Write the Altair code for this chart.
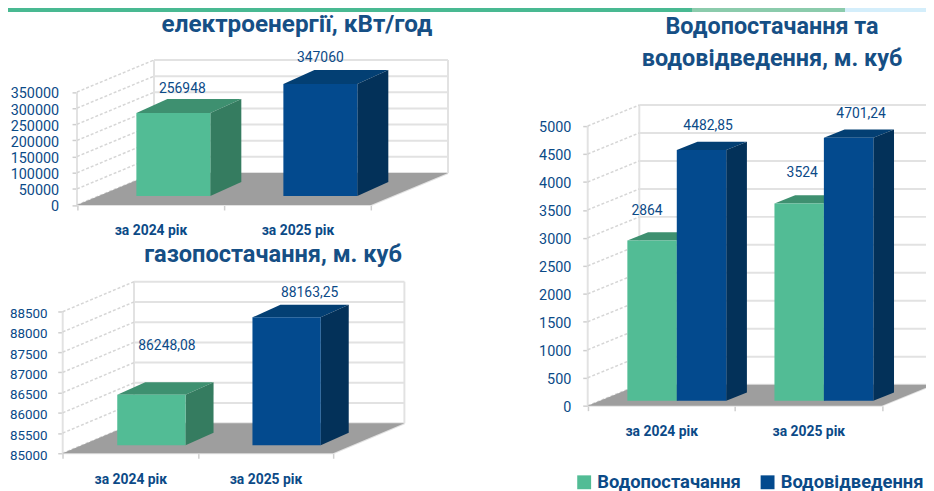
import altair as alt
import pandas as pd

# ---- values ----
categories = ["за 2024 рік", "за 2025 рік"]
electricity = [256948, 347060]
electricity_labels = ["256948", "347060"]
electricity_ticks = [0, 50000, 100000, 150000, 200000, 250000, 300000, 350000]
gas = [86248.08, 88163.25]
gas_labels = ["86248,08", "88163,25"]
gas_ticks = [85000, 85500, 86000, 86500, 87000, 87500, 88000, 88500]
water_supply = [2864, 3524]
water_supply_labels = ["2864", "3524"]
water_drain = [4482.85, 4701.24]
water_drain_labels = ["4482,85", "4701,24"]
water_ticks = [0, 500, 1000, 1500, 2000, 2500, 3000, 3500, 4000, 4500, 5000]
series_names = ["Водопостачання", "Водовідведення"]

# ---- styles ----
INK = "#0B4A87"
TITLE_INK = "#164F85"
FONT = "Roboto"
GRID = "#E2E2E2"
DIAG = "#D6D6D6"
FLOOR = "#9E9E9E"
GREEN = {"front": "#52BC95", "side": "#357C60", "top": "#3E9070"}
BLUE = {"front": "#034A8E", "side": "#033159", "top": "#033F73"}
M = 8      # page margin
W = 926    # the page fits the drawing into 918px, so page pixels are converted by S
H = 487
S = W / 918
LETTERBOX = (H - H / S) / 2


def P(px):
    return (px - M) * S


def Q(py):
    return (py - M - LETTERBOX) * S


def panel(x0, cat, depth, base, vmin, vmax, vh, off, left, barw, bdepth, ticks,
          groups, label_size, label_pad, cat_pad, legend=False):
    """groups: (series name, slot in the category, category index, value, label, shades, label offset)"""
    ux = lambda px: px / cat
    uy = lambda px: px / vh * (vmax - vmin)
    dxu, dyu = ux(depth[0]), uy(depth[1])
    xs = alt.Scale(domain=[0, 2 + dxu], range=[P(x0), P(x0 + 2 * cat + depth[0])], nice=False, zero=False)
    ys = alt.Scale(domain=[vmin, vmax + dyu], range=[Q(base), Q(base - vh - depth[1])], nice=False, zero=False)
    X = lambda axis=None: alt.X("x:Q", scale=xs, axis=axis, title=None)
    Y = lambda axis=None: alt.Y("y:Q", scale=ys, axis=axis, title=None)

    walls, diags = [], []
    for t in ticks:
        walls.append(dict(x=dxu, x2=2 + dxu, y=t + dyu, y2=t + dyu))
        diags.append(dict(x=0, x2=dxu, y=t, y2=t + dyu))
    walls.append(dict(x=dxu, x2=dxu, y=vmin + dyu, y2=vmax + dyu))
    walls.append(dict(x=2 + dxu, x2=2 + dxu, y=vmin + dyu, y2=vmax + dyu))
    walls.append(dict(x=0, x2=0, y=vmin, y2=vmax))
    walls.append(dict(x=0, x2=2, y=vmin, y2=vmin))
    walls.append(dict(x=2, x2=2 + dxu, y=vmin, y2=vmin + dyu))

    y_axis = alt.Axis(orient="left", values=ticks, format="d", domain=False, grid=False, tickColor="#CFCFCF",
                      tickSize=5, tickWidth=1.5, labelColor=INK, labelFont=FONT, labelFontSize=label_size,
                      labelPadding=label_pad, labelOffset=2, offset=-P(x0), labelOverlap=False)
    x_ticks = alt.Axis(orient="bottom", values=[0, 1, 2], labels=False, domain=False, grid=False,
                       tickColor="#CFCFCF", tickSize=5, tickWidth=1.5, offset=-(H - Q(base)))
    expr = f"datum.value < 1 ? '{categories[0]}' : '{categories[1]}'"
    x_names = alt.Axis(orient="bottom", values=[0.5, 1.5], labelExpr=expr, domain=False, grid=False, ticks=False,
                       labelColor=INK, labelFont=FONT, labelFontWeight="bold", labelFontSize=14,
                       labelPadding=cat_pad, offset=-(H - Q(base)))

    layers = [
        alt.Chart(pd.DataFrame(walls)).mark_rule(color=GRID, strokeWidth=2).encode(
            x=X(x_ticks), x2="x2:Q", y=Y(y_axis), y2="y2:Q"),
        alt.Chart(pd.DataFrame(diags)).mark_rule(color=DIAG, strokeWidth=1.5, strokeDash=[3, 2]).encode(
            x=X(), x2="x2:Q", y=Y(), y2="y2:Q"),
    ]

    floor = pd.DataFrame([
        dict(x=0, y=vmin, y2=vmin),
        dict(x=dxu, y=vmin, y2=vmin + dyu),
        dict(x=2, y=vmin, y2=vmin + dyu),
        dict(x=2 + dxu, y=vmin + dyu, y2=vmin + dyu),
    ])
    layers.append(alt.Chart(floor).mark_area(color=FLOOR, orient="vertical", opacity=1).encode(
        x=X(x_names), y=Y(), y2="y2:Q"))

    ox, oy = ux(off[0]), uy(off[1])
    bdx, bdy = ux(bdepth[0]), uy(bdepth[1])
    texts = []
    for name, slot, c, v, label, shades, lab_off in groups:
        l = c + left + ox + slot * barw
        r = l + barw
        b = vmin + oy
        t = v + oy
        tops = [dict(x=l, y=t, y2=t), dict(x=l + bdx, y=t, y2=t + bdy),
                dict(x=r, y=t, y2=t + bdy), dict(x=r + bdx, y=t + bdy, y2=t + bdy)]
        sides = [dict(x=r, y=b, y2=t), dict(x=r + bdx, y=b + bdy, y2=t + bdy)]
        fronts = [dict(x=l, x2=r, y=b, y2=t, series=name)]
        texts.append(dict(x=(l + r) / 2 + ux(lab_off[0]), y=t + uy(lab_off[1]), label=label))
        layers.append(alt.Chart(pd.DataFrame(tops)).mark_area(color=shades["top"], orient="vertical").encode(
            x=X(), y=Y(), y2="y2:Q"))
        layers.append(alt.Chart(pd.DataFrame(sides)).mark_area(color=shades["side"], orient="vertical").encode(
            x=X(), y=Y(), y2="y2:Q"))
        front = alt.Chart(pd.DataFrame(fronts)).mark_rect()
        if legend:
            color = alt.Color("series:N", title=None,
                              scale=alt.Scale(domain=series_names, range=[GREEN["front"], BLUE["front"]]),
                              legend=alt.Legend(orient="none", legendX=P(575), legendY=Q(473), columns=2,
                                                symbolType="square", symbolSize=196, symbolStrokeWidth=0,
                                                labelFont=FONT, labelFontWeight="bold", labelFontSize=18.5,
                                                labelColor=INK, labelLimit=220, columnPadding=17,
                                                labelOffset=4, padding=0))
        else:
            color = alt.value(shades["front"])
        layers.append(front.encode(x=X(), x2="x2:Q", y=Y(), y2="y2:Q", color=color))

    layers.append(alt.Chart(pd.DataFrame(texts)).mark_text(
        color=INK, font=FONT, fontSize=14, align="center", baseline="middle").encode(
        x=X(), y=Y(), text="label:N"))
    return alt.layer(*layers).resolve_axis(x="independent", y="independent")


elec = panel(77, 147, (77, 32), 205, 0, 350000, 113, (21.6, 9), 0.257, 0.503, (31, 14), electricity_ticks,
             [("a", 0, 0, electricity[0], electricity_labels[0], GREEN, (9, 24)),
              ("b", 0, 1, electricity[1], electricity_labels[1], BLUE, (0, 26))],
             14.5, 13.5, 19)
gas_p = panel(62.7, 135.2, (71.3, 30), 453.3, 85000, 88500, 141.6, (19, 8), 0.263, 0.505, (28, 12.5), gas_ticks,
              [("a", 0, 0, gas[0], gas_labels[0], GREEN, (15.5, 49)),
               ("b", 0, 1, gas[1], gas_labels[1], BLUE, (23, 24))],
              13.5, 10.7, 19)
water = panel(587.7, 147.1, (51.6, 21), 405.7, 0, 5000, 279.7, (12.3, 5), 0.186, 0.336, (20.7, 8.3), water_ticks,
              [(series_names[0], 0, 0, water_supply[0], water_supply_labels[0], GREEN, (-5, 29.5)),
               (series_names[1], 1, 0, water_drain[0], water_drain_labels[0], BLUE, (6.6, 24)),
               (series_names[0], 0, 1, water_supply[1], water_supply_labels[1], GREEN, (3, 30.6)),
               (series_names[1], 1, 1, water_drain[1], water_drain_labels[1], BLUE, (12.5, 23.7))],
              14.5, 12, 19, legend=True)


def title(text, x, y, size):
    return alt.Chart(pd.DataFrame({"t": [text]})).mark_text(
        color=TITLE_INK, font=FONT, fontWeight="bold", fontSize=size, align="center", baseline="middle"
    ).encode(x=alt.value(P(x)), y=alt.value(Q(y)), text="t:N")


band_colors = ["#49B992", "#8BCBAC", "#D4EEFB"]
band_stops = [M, 692, 845, 934]
bands = [alt.Chart(pd.DataFrame({"k": [i]})).mark_rect(color=band_colors[i]).encode(
    x=alt.value(P(band_stops[i])), x2=alt.value(P(band_stops[i + 1])), y=alt.value(Q(M)), y2=alt.value(Q(12)))
    for i in range(3)]

chart = alt.layer(
    *bands,
    elec, gas_p, water,
    title("електроенергії, кВт/год", 297, 25, 24.5),
    title("газопостачання, м. куб", 273, 255, 23.8),
    title("Водопостачання та", 772, 27, 23.6),
    title("водовідведення, м. куб", 772, 59, 23.6),
).resolve_scale(x="independent", y="independent").resolve_axis(x="independent", y="independent").properties(
    width=W, height=H, autosize=alt.AutoSizeParams(type="none"), padding=0
).configure_view(stroke=None)

chart.save("out.html", embed_options={"renderer": "svg", "actions": False})
